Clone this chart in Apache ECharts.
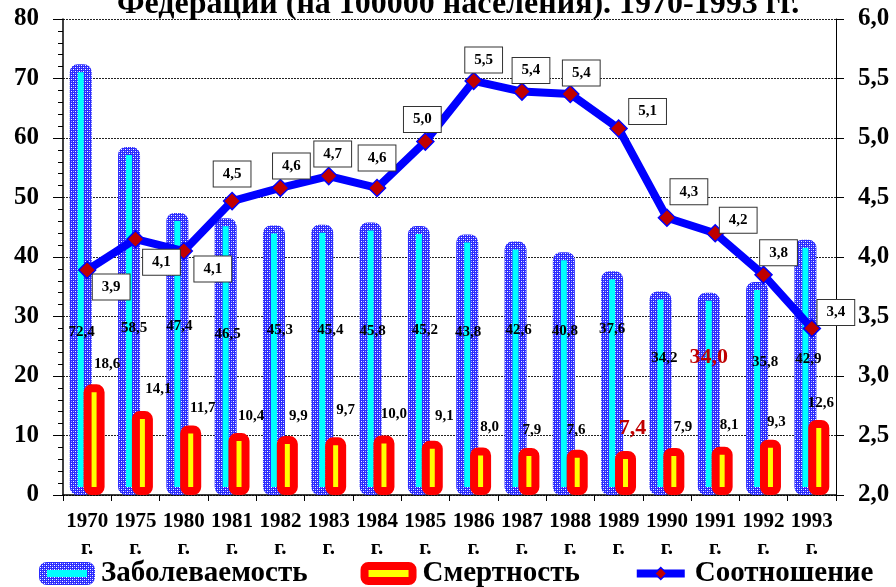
<!DOCTYPE html>
<html>
<head>
<meta charset="utf-8">
<script src="https://cdn.jsdelivr.net/npm/echarts@6/dist/echarts.min.js"></script>
<style>
  html, body { margin: 0; padding: 0; background: #fff; }
  #chart { width: 896px; height: 587px; }
</style>
</head>
<body>
<div id="chart"></div>
<script>
const years = ['1970', '1975', '1980', '1981', '1982', '1983', '1984', '1985',
  '1986', '1987', '1988', '1989', '1990', '1991', '1992', '1993'];
// заболеваемость и смертность на 100000
const incidence = [72.4, 58.5, 47.4, 46.5, 45.3, 45.4, 45.8, 45.2, 43.8, 42.6, 40.8, 37.6, 34.2, 34.0, 35.8, 42.9];
const mortality = [18.6, 14.1, 11.7, 10.4, 9.9, 9.7, 10.0, 9.1, 8.0, 7.9, 7.6, 7.4, 7.9, 8.1, 9.3, 12.6];
// соотношение (правая ось)
const ratio = [3.89, 4.15, 4.05, 4.47, 4.58, 4.68, 4.58, 4.97, 5.48, 5.39, 5.37, 5.08, 4.33, 4.20, 3.85, 3.40];
const ratioLabels = ['3,9', '4,1', '4,1', '4,5', '4,6', '4,7', '4,6', '5,0', '5,5', '5,4', '5,4', '5,1', '4,3', '4,2', '3,8', '3,4'];
const leftTicks = [0, 80, 10];
const rightTicks = [2, 6, 0.5];

// label placement (styling only)
const ratioLabelShift = [[24, 17], [26, 23], [29, 18], [0, -27], [11, -22], [4, -22], [0, -30], [-3, -22],
  [10, -21], [9, -21], [11, -21], [29, -17], [22, -26], [23, -13], [15, -22], [24, -16]];
const incLabelLevel = [27.4, 28.1, 28.4, 27.1, 27.7, 27.7, 27.6, 27.7, 27.4, 27.7, 27.6, 27.9, 23.0, 23.2, 22.4, 22.9];
const incLabelDx = [1, 5, 2, 2, 6, 8, 2, 6, 1, 3, 1, 0, 4, 0, 8, 3];
const mortLabelShift = [[13, -8], [16, -9], [12, -5], [12, -4], [11, -7], [10, -15], [10, -9], [12, -12],
  [9, -8], [3, -5], [-1, -7], [7, -7], [9, -8], [7, -9], [6, -5], [2, -4]];
const redIdxInc = 13, redIdxMort = 11;

const FONT = '"Liberation Serif", "DejaVu Serif", serif';
const gridTop = 19, gridBottom = 92;
const pxPerUnit = (587 - gridTop - gridBottom) / (leftTicks[1] - leftTicks[0]);

// синий «сетчатый» узор для рамки столбцов
function makePattern() {
  const c = document.createElement('canvas');
  c.width = 4; c.height = 4;
  const ctx = c.getContext('2d');
  ctx.fillStyle = '#2a2aff';
  ctx.fillRect(0, 0, 4, 4);
  ctx.fillStyle = '#ffffff';
  ctx.fillRect(1, 1, 1, 1);
  ctx.fillRect(3, 3, 1, 1);
  ctx.fillStyle = '#9a9aff';
  ctx.fillRect(3, 1, 1, 1);
  ctx.fillRect(1, 3, 1, 1);
  return { image: c, repeat: 'repeat' };
}
const bluePattern = makePattern();

const chart = echarts.init(document.getElementById('chart'));

const option = {
  animation: false,
  backgroundColor: '#fff',
  textStyle: { fontFamily: FONT },
  title: {
    text: 'Федерации (на 100000 населения). 1970-1993 гг.',
    left: 112,
    top: -16,
    textStyle: { fontFamily: FONT, fontSize: 32, fontWeight: 'bold', color: '#000' }
  },
  grid: { left: 63, right: 60, top: gridTop, bottom: gridBottom },
  legend: {
    left: 34,
    top: 554,
    itemGap: 53,
    itemWidth: 48,
    itemHeight: 15,
    textStyle: { fontFamily: FONT, fontSize: 29, fontWeight: 'bold', color: '#000', padding: [0, 0, 0, 5] },
    data: [
      { name: 'Заболеваемость', itemStyle: { color: '#00ffff', borderColor: bluePattern, borderWidth: 8 } },
      { name: 'Смертность', itemStyle: { color: '#ffff00', borderColor: '#ff0000', borderWidth: 8 } },
      {
        name: 'Соотношение',
        lineStyle: { color: '#0000ff', width: 8 },
        itemStyle: { color: '#c00000', borderColor: '#0000ff', borderWidth: 1.5 }
      }
    ]
  },
  xAxis: {
    type: 'category',
    data: years,
    axisLine: { lineStyle: { color: '#000', width: 1.5 } },
    axisTick: { show: true, length: 6, lineStyle: { color: '#000' } },
    axisLabel: {
      interval: 0,
      formatter: '{value}\nг.',
      fontFamily: FONT, fontSize: 21, fontWeight: 'bold', color: '#000',
      lineHeight: 27, margin: 13
    }
  },
  yAxis: [
    {
      type: 'value',
      min: leftTicks[0], max: leftTicks[1], interval: leftTicks[2],
      axisLine: { show: true, lineStyle: { color: '#000', width: 1.5 } },
      axisTick: { show: true, length: 10, lineStyle: { color: '#000' } },
      minorTick: { show: true, splitNumber: 5, length: 5, lineStyle: { color: '#000' } },
      axisLabel: { fontFamily: FONT, fontSize: 25, fontWeight: 'bold', color: '#000', margin: 24 },
      splitLine: { show: true, lineStyle: { color: '#222', type: [2, 1], width: 1 } }
    },
    {
      type: 'value',
      min: rightTicks[0], max: rightTicks[1], interval: rightTicks[2],
      axisLine: { show: true, lineStyle: { color: '#000', width: 1 } },
      axisTick: { show: true, length: 8, lineStyle: { color: '#000' } },
      axisLabel: {
        fontFamily: FONT, fontSize: 25, fontWeight: 'bold', color: '#000', margin: 22,
        formatter: v => v.toFixed(1).replace('.', ',')
      },
      splitLine: { show: false }
    }
  ],
  series: [
    {
      name: 'Заболеваемость',
      type: 'bar',
      barWidth: 22,
      barGap: '-37%',
      z: 2,
      itemStyle: { color: '#00ffff', borderColor: bluePattern, borderWidth: 8, borderRadius: 4 },
      label: {
        show: true,
        position: 'insideBottom',
        fontFamily: FONT, fontSize: 15, fontWeight: 'bold', color: '#000',
        formatter: p => p.value.toFixed(1).replace('.', ',')
      },
      data: incidence.map((v, i) => ({
        value: v,
        label: i === redIdxInc
          ? { distance: incLabelLevel[i] * pxPerUnit - 11, offset: [incLabelDx[i], 0], fontSize: 22, color: '#c00000' }
          : { distance: incLabelLevel[i] * pxPerUnit - 7.5, offset: [incLabelDx[i], 0] }
      }))
    },
    {
      name: 'Смертность',
      type: 'bar',
      barWidth: 21,
      z: 3,
      itemStyle: { color: '#ffff00', borderColor: '#ff0000', borderWidth: 8, borderRadius: 4 },
      label: {
        show: true,
        position: 'top',
        fontFamily: FONT, fontSize: 15, fontWeight: 'bold', color: '#000',
        formatter: p => p.value.toFixed(1).replace('.', ',')
      },
      data: mortality.map((v, i) => ({
        value: v,
        label: i === redIdxMort
          ? { offset: mortLabelShift[i], fontSize: 22, color: '#c00000' }
          : { offset: mortLabelShift[i] }
      }))
    },
    {
      name: 'Соотношение',
      type: 'line',
      yAxisIndex: 1,
      z: 5,
      symbol: 'diamond',
      symbolSize: 17,
      lineStyle: { color: '#0000ff', width: 8 },
      itemStyle: { color: '#c00000', borderColor: '#0000ff', borderWidth: 1.5 },
      label: {
        show: true,
        position: 'inside',
        fontFamily: FONT, fontSize: 15, fontWeight: 'bold', color: '#000',
        backgroundColor: '#fff', borderColor: '#333', borderWidth: 1,
        padding: [5, 9, 5, 9]
      },
      data: ratio.map((v, i) => ({
        value: v,
        label: { formatter: ratioLabels[i], offset: ratioLabelShift[i] }
      }))
    }
  ]
};

chart.setOption(option);
</script>
</body>
</html>
